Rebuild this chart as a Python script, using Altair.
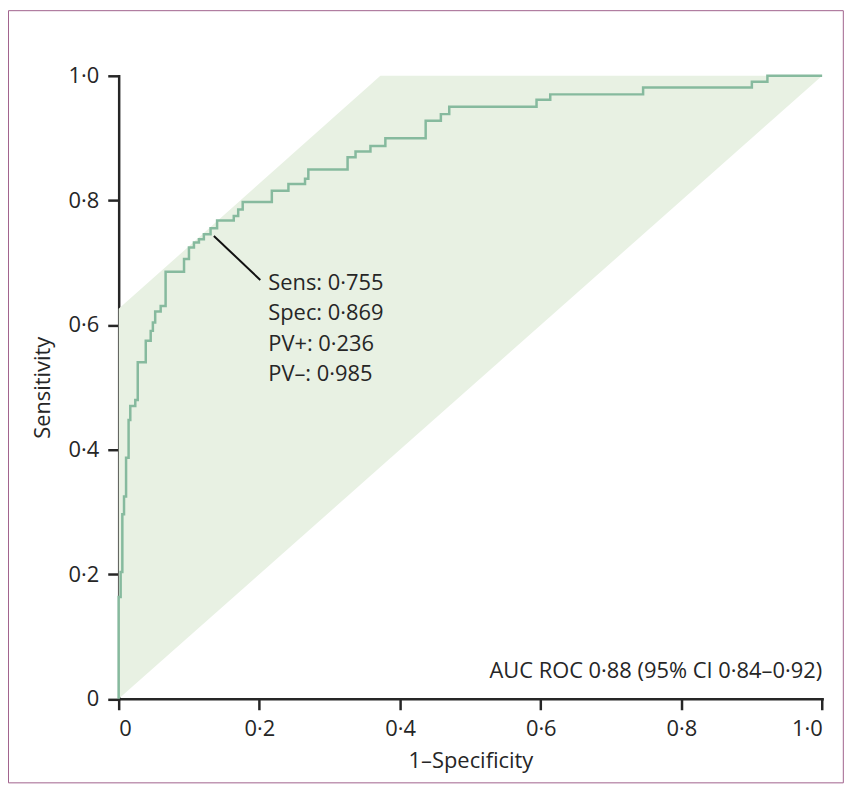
import altair as alt
import pandas as pd

# ROC step curve corners (1-specificity, sensitivity)
FPR = [0, 0, 0.0028, 0.0052, 0.0076, 0.0105, 0.0141, 0.0165, 0.0236, 0.0271,
       0.0385, 0.0455, 0.0486, 0.0519, 0.0597, 0.0667, 0.0929, 0.0999, 0.1070,
       0.1141, 0.1211, 0.1306, 0.1399, 0.1636, 0.1699, 0.1763, 0.2177, 0.2413,
       0.2649, 0.2696, 0.3254, 0.3367, 0.3579, 0.3791, 0.4364, 0.4580, 0.4699,
       0.5940, 0.6135, 0.7455, 0.9001, 0.9222, 1.0]
TPR = [0, 0.1636, 0.2035, 0.2961, 0.3248, 0.3871, 0.4477, 0.4701, 0.4797, 0.5403,
       0.5746, 0.5906, 0.6042, 0.6217, 0.6305, 0.6856, 0.7058, 0.7243, 0.7323,
       0.7378, 0.7457, 0.7553, 0.7678, 0.7749, 0.7853, 0.7973, 0.8156, 0.8265,
       0.8348, 0.8495, 0.8691, 0.8787, 0.8875, 0.8999, 0.9277, 0.9385, 0.9505,
       0.9617, 0.9702, 0.9813, 0.9904, 1.0, 1.0]

# shaded band vertices
BAND_X = [0.0, 0.372, 1.0]
BAND_UPPER = [0.626, 1.0, 1.0]
BAND_LOWER = [0.0, 0.372, 1.0]

# annotation
LEADER_X = [0.1353, 0.2013]
LEADER_Y = [0.743, 0.6723]
ANNOT_LINES = ["Sens: 0·755", "Spec: 0·869", "PV+: 0·236", "PV–: 0·985"]
AUC_TEXT = "AUC ROC 0·88 (95% CI 0·84–0·92)"
TICKS = [0, 0.2, 0.4, 0.6, 0.8, 1.0]

W, H = 707.4, 626.5
FONT = "Open Sans"
TXT = "#262626"
FS = 22

roc = pd.DataFrame({"fpr": FPR, "tpr": TPR, "i": range(len(FPR))})
band = pd.DataFrame({"x": BAND_X, "hi": BAND_UPPER, "lo": BAND_LOWER})
leader = pd.DataFrame({"x": [LEADER_X[0]], "y": [LEADER_Y[0]],
                       "x2": [LEADER_X[1]], "y2": [LEADER_Y[1]]})
one = pd.DataFrame({"a": [0]})

lab = "datum.value === 0 ? '0' : replace(format(datum.value, '.1f'), '.', '·')"
xs = alt.Scale(domain=[0, 1], nice=False, zero=False)
ys = alt.Scale(domain=[0, 1], nice=False, zero=False)

band_l = alt.Chart(band).mark_area(color="#e8f1e3", opacity=1).encode(
    x=alt.X("x:Q", scale=xs,
            axis=alt.Axis(values=TICKS, labelExpr=lab, title="1–Specificity",
                          titlePadding=11)),
    y=alt.Y("hi:Q", scale=ys,
            axis=alt.Axis(values=TICKS, labelExpr=lab, title="Sensitivity",
                          titlePadding=14)),
    y2="lo:Q",
)

curve = alt.Chart(roc).mark_line(color="#86ba9e", strokeWidth=2.5,
                                 interpolate="step-after").encode(
    x="fpr:Q", y="tpr:Q", order="i:Q")

lead = alt.Chart(leader).mark_rule(color="#111111", strokeWidth=2).encode(
    x="x:Q", y="y:Q", x2="x2:Q", y2="y2:Q")

annot = alt.Chart(one).mark_text(
    text=ANNOT_LINES, align="left", baseline="alphabetic", lineHeight=30.7,
    dx=8, dy=10, font=FONT, fontSize=FS, color=TXT).encode(
    x=alt.datum(LEADER_X[1]), y=alt.datum(LEADER_Y[1]))

auc = alt.Chart(one).mark_text(
    text=AUC_TEXT, align="right", baseline="alphabetic", dy=-21,
    font=FONT, fontSize=FS, color=TXT).encode(
    x=alt.datum(1.0), y=alt.datum(0.0))

border = alt.Chart(one).mark_rect(filled=False, stroke="#a0628c",
                                  strokeWidth=1).encode(
    x=alt.value(-110.8), x2=alt.value(728.7),
    y=alt.value(-65.5), y2=alt.value(711))

chart = alt.layer(band_l, curve, lead, annot, auc, border).properties(
    width=W, height=H,
    autosize=alt.AutoSizeParams(type="none"),
    padding={"left": 111.3, "top": 66, "right": 25, "bottom": 90},
).configure_view(stroke=None).configure_axis(
    grid=False, domainColor=TXT, domainWidth=2.5, tickColor=TXT, tickWidth=2.5,
    tickSize=11, labelPadding=9, labelFont=FONT, labelFontSize=FS,
    labelColor=TXT, titleFont=FONT, titleFontSize=FS, titleFontWeight="normal",
    titleColor=TXT, domainCap="square",
)

chart.save("out.html", embed_options={"renderer": "svg", "actions": False})
